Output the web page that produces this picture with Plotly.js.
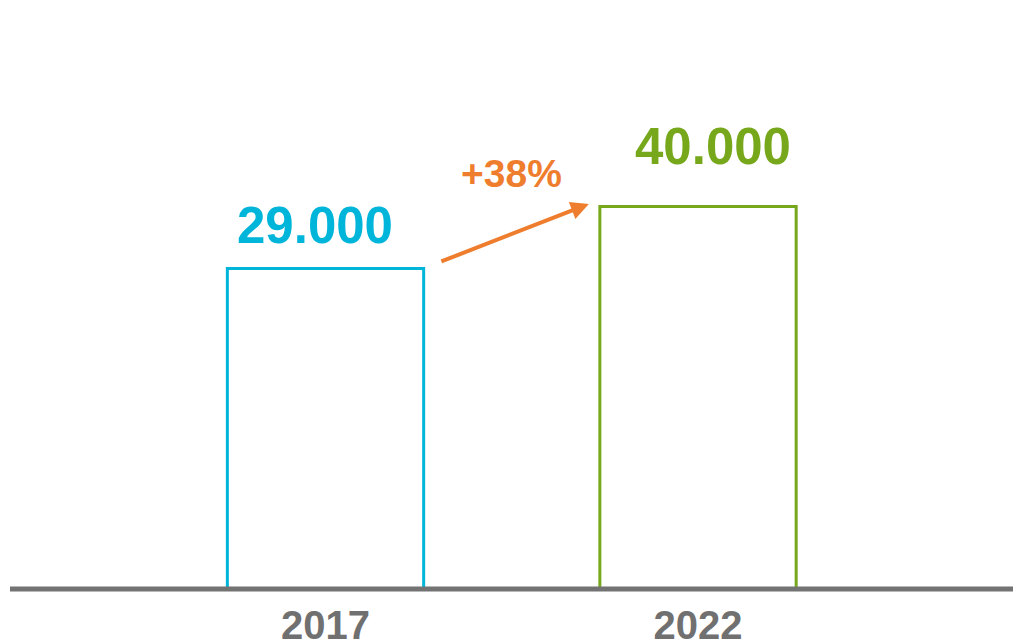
<!DOCTYPE html>
<html>
<head>
<meta charset="utf-8">
<script src="https://cdn.plot.ly/plotly-3.0.1.min.js"></script>
<style>html,body{margin:0;padding:0;background:#fff;}#chart{width:1013px;height:642px;}</style>
</head>
<body>
<div id="chart"></div>
<script>
// ---- data ----
const years = ['2017', '2022'];
const values = [29000, 40000];
const barColors = ['#00B5DA', '#77A81B'];

// ---- style constants ----
const BAR_BASE = -27863;       // visual baseline of the (non-proportional) reference
const Y_TOP = 76637;
const ORANGE = '#EF7D2E';
const GREY = '#737373';
const FONT = 'Arial, "Liberation Sans", sans-serif';

function fmt(v) { return String(Math.round(v)).replace(/\B(?=(\d{3})+(?!\d))/g, '.'); }
const pct = Math.round((values[1] / values[0] - 1) * 100);

const trace = {
  type: 'bar',
  x: years,
  y: values.map(v => v - BAR_BASE),
  base: BAR_BASE,
  width: 0.527,
  marker: { color: 'rgba(255,255,255,0)', line: { color: barColors, width: 3 } },
  hoverinfo: 'skip'
};

const labelShift = [43, 60];
const labelXShift = [-11, 15];
const annotations = years.map((yr, i) => ({
  x: i, y: values[i], xref: 'x', yref: 'y',
  text: fmt(values[i]), showarrow: false,
  yanchor: 'middle', xanchor: 'center',
  yshift: labelShift[i], xshift: labelXShift[i],
  font: { family: FONT, size: 51, color: barColors[i], weight: 'bold' }
}));

// growth arrow between bar tops
annotations.push({
  xref: 'x', yref: 'y', axref: 'x', ayref: 'y',
  x: 0.707, y: values[1] + 450,
  ax: 0.307, ay: values[0] + 1150,
  text: '', showarrow: true,
  arrowhead: 2, arrowsize: 0.9, arrowwidth: 4, arrowcolor: ORANGE,
  standoff: 0, startstandoff: 0
});
annotations.push({
  x: 0.498, y: values[1], xref: 'x', yref: 'y',
  text: '+' + pct + '%', showarrow: false,
  yanchor: 'middle', xanchor: 'center', yshift: 33,
  font: { family: FONT, size: 39, color: ORANGE, weight: 'bold' }
});

const layout = {
  width: 1013, height: 642,
  margin: { l: 10, r: 0, t: 0, b: 53 },
  paper_bgcolor: '#ffffff', plot_bgcolor: '#ffffff',
  showlegend: false,
  xaxis: {
    type: 'category', range: [-0.847, 1.8456],
    showgrid: false, zeroline: false, showline: false, ticks: '',
    tickfont: { family: FONT, size: 40, color: '#707070', weight: 'bold' },
    ticklabelstandoff: 9
  },
  yaxis: {
    range: [BAR_BASE, Y_TOP], visible: false, showgrid: false, zeroline: false
  },
  shapes: [{
    type: 'line', xref: 'paper', yref: 'paper', x0: 0, x1: 1, y0: 0, y1: 0,
    line: { color: GREY, width: 5 }, layer: 'above'
  }],
  annotations: annotations
};

Plotly.newPlot('chart', [trace], layout, { displayModeBar: false, staticPlot: true });
</script>
</body>
</html>
